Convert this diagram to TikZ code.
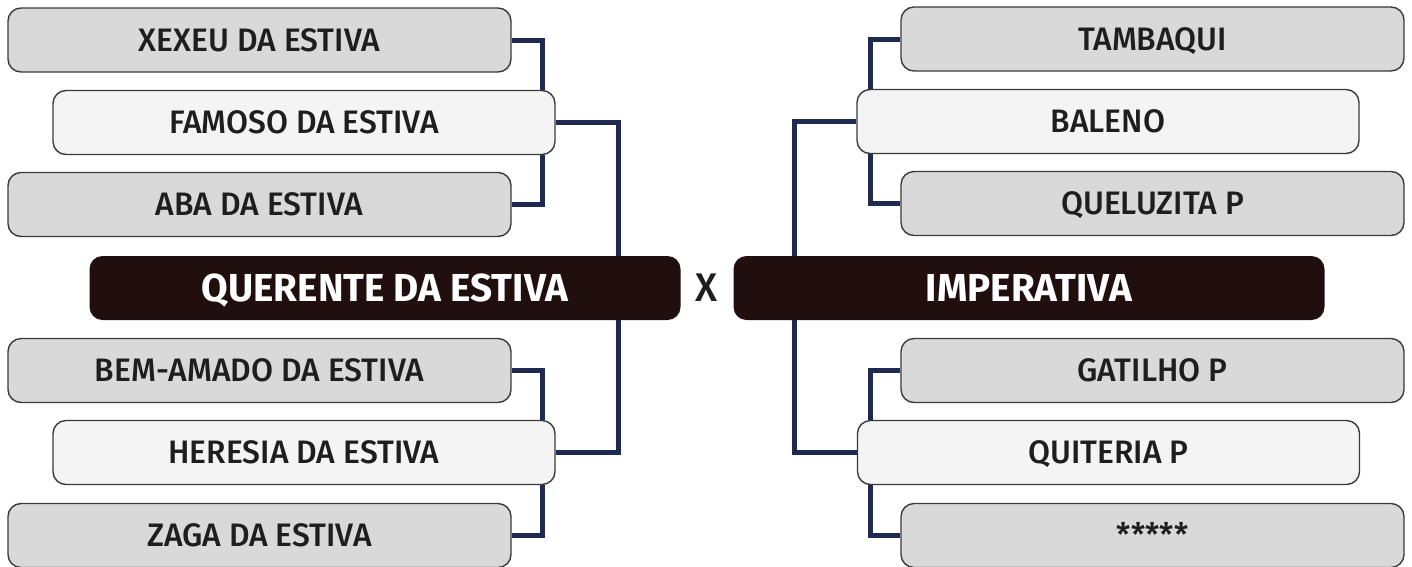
\documentclass[tikz,border=0pt]{standalone}
\usepackage{fontspec}
\setmainfont{Fira Sans}
\newfontfamily\boxfont[FakeStretch=0.98]{Fira Sans Medium}
\newfontfamily\bigfont[FakeStretch=0.99]{Fira Sans Bold}
\definecolor{graybox}{HTML}{D9D9D9}
\definecolor{whitebox}{HTML}{F4F4F4}
\definecolor{edgecol}{HTML}{3A3A3A}
\definecolor{darkbox}{HTML}{210E0F}
\definecolor{linkcol}{HTML}{1F2A52}
\definecolor{txtcol}{HTML}{1E1E1E}
\tikzset{
  base/.style={rounded corners=13pt, draw=edgecol, line width=1.4pt, inner sep=0pt,
    text=txtcol, font=\boxfont\fontsize{32.5}{36}\selectfont, text height=22.4pt, text depth=0pt},
  gbox/.style={base, fill=graybox, minimum width=503pt, minimum height=64pt},
  wbox/.style={base, fill=whitebox, minimum width=502pt, minimum height=64pt},
  dbox/.style={rounded corners=13pt, fill=darkbox, draw=none, inner sep=0pt, text=white,
    minimum width=591pt, minimum height=64pt,
    font=\bigfont\fontsize{39}{40}\selectfont, text height=26.9pt, text depth=0pt},
  link/.style={draw=linkcol, line width=5pt, line join=miter, line cap=butt}
}
\begin{document}
\begin{tikzpicture}[x=1pt,y=-1pt]
\useasboundingbox (0,0) rectangle (1412,566);
\clip (0,0) rectangle (1412,566);
% left column
\node[gbox] (xexeu) at (259.5,40) {XEXEU DA ESTIVA};
\node[wbox] (famoso) at (304,122.5) {FAMOSO DA ESTIVA};
\node[gbox] (aba) at (259.5,204.5) {ABA DA ESTIVA};
\node[dbox] (querente) at (385,288) {QUERENTE DA ESTIVA};
\node[gbox] (bem) at (259.5,370.5) {BEM-AMADO DA ESTIVA};
\node[wbox] (heresia) at (304,452.5) {HERESIA DA ESTIVA};
\node[gbox] (zaga) at (259.5,535.5) {ZAGA DA ESTIVA};
% right column
\node[gbox] (tambaqui) at (1152.5,39) {TAMBAQUI};
\node[wbox] (baleno) at (1108,121.5) {BALENO};
\node[gbox] (queluzita) at (1152.5,203.5) {QUELUZITA P};
\node[dbox] (imperativa) at (1029,288) {IMPERATIVA};
\node[gbox] (gatilho) at (1152.5,370.5) {GATILHO P};
\node[wbox] (quiteria) at (1108.5,452.5) {QUITERIA P};
\node[gbox] (stars) at (1152.5,535.5) {*****};
% X
\node[text=txtcol, font=\boxfont\fontsize{40}{42}\selectfont, text height=27.5pt, text depth=0pt, inner sep=0pt] (vs) at (707,288) {X};
% connectors left
\draw[link] (xexeu.east) -- (542,40) -- (famoso.north -| 542,0);
\draw[link] (famoso.south -| 542,0) -- (542,204.5) -- (aba.east);
\draw[link] (famoso.east) -- (618,122.5) -- (querente.north -| 618,0);
\draw[link] (querente.south -| 618,0) -- (618,452.5) -- (heresia.east);
\draw[link] (bem.east) -- (542,370.5) -- (heresia.north -| 542,0);
\draw[link] (heresia.south -| 542,0) -- (542,535.5) -- (zaga.east);
% connectors right
\draw[link] (tambaqui.west) -- (870,39) -- (baleno.north -| 870,0);
\draw[link] (baleno.south -| 870,0) -- (870,203.5) -- (queluzita.west);
\draw[link] (baleno.west) -- (794,121.5) -- (imperativa.north -| 794,0);
\draw[link] (imperativa.south -| 794,0) -- (794,452.5) -- (quiteria.west);
\draw[link] (gatilho.west) -- (870,370.5) -- (quiteria.north -| 870,0);
\draw[link] (quiteria.south -| 870,0) -- (870,535.5) -- (stars.west);
\end{tikzpicture}
\end{document}
